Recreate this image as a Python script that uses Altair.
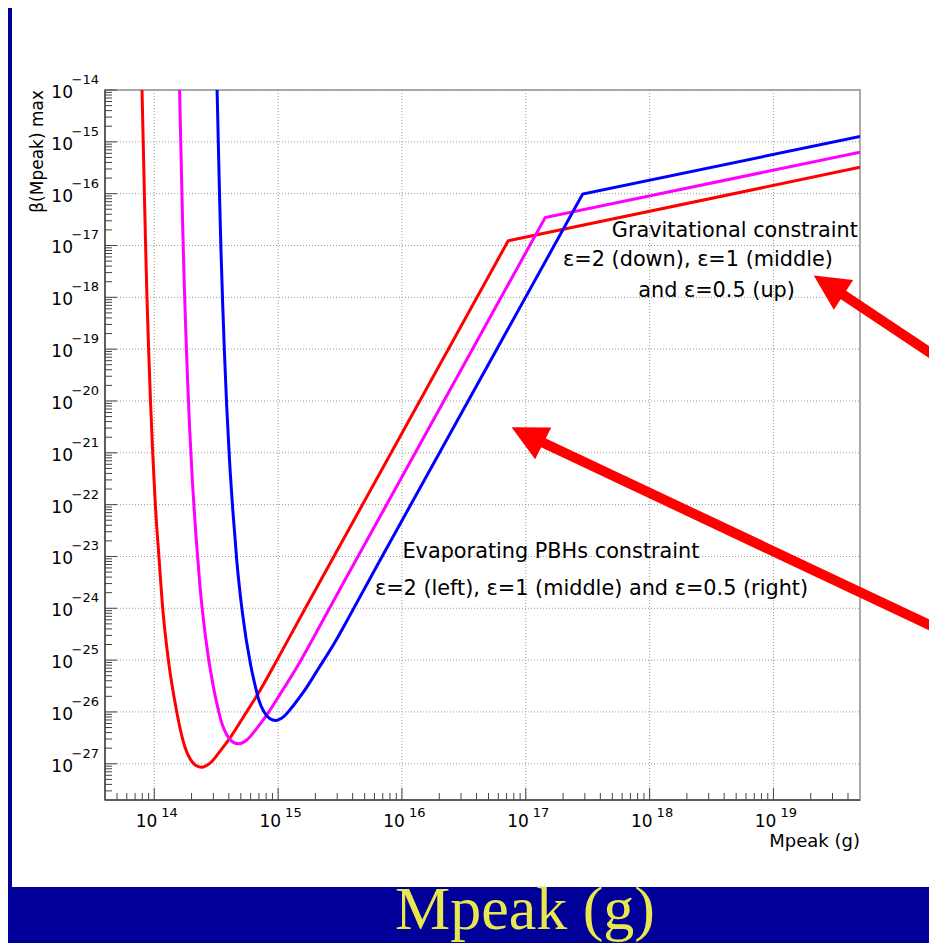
import altair as alt
import pandas as pd

# ---------------- values ----------------
EPS = ["2", "1", "0.5"]
COLORS = ["#ff0000", "#ff00ff", "#0000ff"]

# epsilon = 2 (red): evaporation branch (smooth) then gravitational branch (straight)
M_EPS2 = [7.96e13, 8.14e13, 8.32e13, 8.51e13, 8.73e13, 9.00e13, 9.32e13, 9.71e13, 1.02e14, 1.09e14,
          1.17e14, 1.30e14, 1.52e14, 1.63e14, 1.77e14, 1.94e14, 2.17e14, 2.41e14, 2.82e14, 3.39e14,
          4.09e14, 5.40e14, 7.14e14, 9.79e14, 1.65e15, 7.21e16, 5.0e19]
B_EPS2 = [1.0e-14, 1.0e-15, 1.0e-16, 1.0e-17, 1.0e-18, 1.0e-19, 1.0e-20, 1.0e-21, 1.0e-22, 1.0e-23,
          1.0e-24, 1.0e-25, 1.0e-26, 4.39e-27, 2.09e-27, 1.26e-27, 9.26e-28, 8.59e-28, 1.03e-27, 1.73e-27,
          3.15e-27, 8.94e-27, 2.60e-26, 1.0e-25, 9.82e-25, 1.23e-17, 3.22e-16]
# epsilon = 1 (magenta)
M_EPS1 = [1.584e14, 1.620e14, 1.656e14, 1.693e14, 1.737e14, 1.790e14, 1.854e14, 1.932e14, 2.031e14, 2.163e14,
          2.334e14, 2.591e14, 3.018e14, 3.252e14, 3.521e14, 3.865e14, 4.321e14, 4.804e14, 5.605e14, 6.750e14,
          8.139e14, 1.0745e15, 1.421e15, 1.948e15, 3.284e15, 1.435e17, 5.0e19]
B_EPS1 = [2.82e-14, 2.82e-15, 2.82e-16, 2.82e-17, 2.82e-18, 2.82e-19, 2.82e-20, 2.82e-21, 2.82e-22, 2.82e-23,
          2.82e-24, 2.82e-25, 2.82e-26, 1.239e-26, 5.90e-27, 3.557e-27, 2.614e-27, 2.425e-27, 2.908e-27, 4.884e-27,
          8.892e-27, 2.524e-26, 7.34e-26, 2.823e-25, 2.772e-24, 3.47e-17, 6.3e-16]
# epsilon = 0.5 (blue)
M_EPS05 = [3.151e14, 3.223e14, 3.295e14, 3.370e14, 3.457e14, 3.564e14, 3.691e14, 3.845e14, 4.042e14, 4.305e14,
           4.645e14, 5.156e14, 6.006e14, 6.471e14, 7.008e14, 7.692e14, 8.599e14, 9.560e14, 1.1155e15, 1.3433e15,
           1.6196e15, 2.138e15, 2.827e15, 3.877e15, 6.534e15, 2.88e17, 5.0e19]
B_EPS05 = [7.97e-14, 7.97e-15, 7.97e-16, 7.97e-17, 7.97e-18, 7.97e-19, 7.97e-20, 7.97e-21, 7.97e-22, 7.97e-23,
           7.97e-24, 7.97e-25, 7.97e-26, 3.499e-26, 1.666e-26, 1.004e-26, 7.380e-27, 6.846e-27, 8.209e-27, 1.379e-26,
           2.511e-26, 7.125e-26, 2.072e-25, 7.97e-25, 7.827e-24, 9.8e-17, 1.27e-15]
SMOOTH_UNTIL = 24   # last index of the curved (evaporation) part; straight segments after it

X_DOMAIN = [4e13, 5e19]
Y_DOMAIN = [2e-28, 1e-14]
X_MAJOR = [1e14, 1e15, 1e16, 1e17, 1e18, 1e19]
X_EXP = ["14", "15", "16", "17", "18", "19"]
Y_MAJOR = [1e-14, 1e-15, 1e-16, 1e-17, 1e-18, 1e-19, 1e-20, 1e-21, 1e-22, 1e-23, 1e-24, 1e-25, 1e-26, 1e-27]
Y_EXP = ["\u221214", "\u221215", "\u221216", "\u221217", "\u221218", "\u221219", "\u221220",
         "\u221221", "\u221222", "\u221223", "\u221224", "\u221225", "\u221226", "\u221227"]
TICK_BASE = "10"
X_MINOR = [m * 10.0 ** e for e in range(13, 20) for m in range(2, 10)
           if X_DOMAIN[0] * 1.001 < m * 10.0 ** e < X_DOMAIN[1] * 0.999]
Y_MINOR = [m * 10.0 ** e for e in range(-28, -14) for m in range(2, 10)
           if Y_DOMAIN[0] * 1.001 < m * 10.0 ** e < Y_DOMAIN[1] * 0.999]

X_TITLE = "Mpeak (g)"
Y_TITLE = "\u03b2(Mpeak) max"
SLIDE_TITLE = "Mpeak (g)"

ANNOT_TEXT = ["Gravitational constraint", "\u03b5=2 (down), \u03b5=1 (middle)", "and \u03b5=0.5 (up)",
              "Evaporating PBHs constraint", "\u03b5=2 (left), \u03b5=1 (middle) and \u03b5=0.5 (right)"]
ANNOT_M = [4.95e17, 2.00e17, 8.09e17, 1.01e16, 6.05e15]
ANNOT_B = [1.92e-17, 5.22e-18, 1.31e-18, 1.22e-23, 2.39e-24]

# arrows: head centre -> tail end, head rotation
ARROW_M0 = [2.79e19, 1.03e17]
ARROW_B0 = [1.72e-18, 2.18e-21]
ARROW_M1 = [2.42e20, 2.42e20]
ARROW_B1 = [5.5e-20, 3.46e-25]
ARROW_ANGLE = [303, 297]

# ---------------- build ----------------
W, H = 755, 710
FONT = "DejaVu Sans"
NAVY = "#000099"
AXC = "#444444"

rows = []
for eps, ms, bs in zip(EPS, [M_EPS2, M_EPS1, M_EPS05], [B_EPS2, B_EPS1, B_EPS05]):
    for i, (m, b) in enumerate(zip(ms, bs)):
        rows.append({"M": m, "beta": b, "eps": eps, "i": i})
curves_df = pd.DataFrame(rows)
smooth_df = curves_df[curves_df["i"] <= SMOOTH_UNTIL]
straight_df = curves_df[curves_df["i"] >= SMOOTH_UNTIL]

xs = alt.Scale(type="log", domain=X_DOMAIN, nice=False)
ys = alt.Scale(type="log", domain=Y_DOMAIN, nice=False)
color = alt.Color("eps:N", scale=alt.Scale(domain=EPS, range=COLORS), legend=None)

one = pd.DataFrame({"k": [0]})

# navy slide border strips (outside the plot)
navy_left = alt.Chart(one).mark_rect(color=NAVY).encode(
    x=alt.value(-97), x2=alt.value(-93), y=alt.value(-82), y2=alt.value(H + 143))
navy_bottom = alt.Chart(one).mark_rect(color=NAVY).encode(
    x=alt.value(-97), x2=alt.value(830), y=alt.value(797), y2=alt.value(H + 143))

# dotted grid
xgrid = alt.Chart(pd.DataFrame({"v": X_MAJOR})).mark_rule(
    color="#999999", strokeWidth=1, strokeDash=[1, 2]).encode(
    x=alt.X("v:Q", scale=xs, axis=None), y=alt.value(0), y2=alt.value(H))
ygrid = alt.Chart(pd.DataFrame({"v": Y_MAJOR})).mark_rule(
    color="#999999", strokeWidth=1, strokeDash=[1, 2]).encode(
    y=alt.Y("v:Q", scale=ys, axis=None), x=alt.value(0), x2=alt.value(W))

curves_smooth = alt.Chart(smooth_df).mark_line(clip=True, strokeWidth=3, interpolate="monotone").encode(
    x=alt.X("M:Q", scale=xs, axis=None), y=alt.Y("beta:Q", scale=ys, axis=None),
    color=color, detail="eps:N", order=alt.Order("i:Q"))
curves_straight = alt.Chart(straight_df).mark_line(clip=True, strokeWidth=3).encode(
    x=alt.X("M:Q", scale=xs, axis=None), y=alt.Y("beta:Q", scale=ys, axis=None),
    color=color, detail="eps:N", order=alt.Order("i:Q"))

def yticks(vals, length):
    return alt.Chart(pd.DataFrame({"v": vals})).mark_rule(color=AXC, strokeWidth=1).encode(
        y=alt.Y("v:Q", scale=ys, axis=None), x=alt.value(0), x2=alt.value(length))

def xticks(vals, length):
    return alt.Chart(pd.DataFrame({"v": vals})).mark_rule(color=AXC, strokeWidth=1).encode(
        x=alt.X("v:Q", scale=xs, axis=None), y=alt.value(H), y2=alt.value(H - length))

# axis lines (left and bottom)
left_line = alt.Chart(one).mark_rule(color=AXC, strokeWidth=1.5).encode(
    x=alt.value(0), y=alt.value(0), y2=alt.value(H))
bottom_line = alt.Chart(one).mark_rule(color=AXC, strokeWidth=1.5).encode(
    x=alt.value(0), x2=alt.value(W), y=alt.value(H))

# tick labels: base "10" plus exponents
x_base = alt.Chart(pd.DataFrame({"v": X_MAJOR, "t": [TICK_BASE] * len(X_MAJOR)})).mark_text(
    align="right", baseline="top", dx=3, font=FONT, fontSize=17, color="#000000").encode(
    x=alt.X("v:Q", scale=xs, axis=None), y=alt.value(H + 14), text="t:N")
x_exp = alt.Chart(pd.DataFrame({"v": X_MAJOR, "t": X_EXP})).mark_text(
    align="left", baseline="middle", dx=7, font=FONT, fontSize=13, color="#000000").encode(
    x=alt.X("v:Q", scale=xs, axis=None), y=alt.value(H + 13), text="t:N")
y_base = alt.Chart(pd.DataFrame({"v": Y_MAJOR, "t": [TICK_BASE] * len(Y_MAJOR)})).mark_text(
    align="right", baseline="middle", dy=3, font=FONT, fontSize=17, color="#000000").encode(
    y=alt.Y("v:Q", scale=ys, axis=None), x=alt.value(-32), text="t:N")
y_exp = alt.Chart(pd.DataFrame({"v": Y_MAJOR, "t": Y_EXP})).mark_text(
    align="right", baseline="middle", dy=-10, font=FONT, fontSize=13, color="#000000").encode(
    y=alt.Y("v:Q", scale=ys, axis=None), x=alt.value(-6), text="t:N")

# axis titles
x_title = alt.Chart(pd.DataFrame({"t": [X_TITLE]})).mark_text(
    align="right", baseline="alphabetic", font=FONT, fontSize=18, color="#000000").encode(
    x=alt.value(W), y=alt.value(H + 47), text="t:N")
y_title = alt.Chart(pd.DataFrame({"t": [Y_TITLE]})).mark_text(
    align="right", baseline="middle", angle=270, font=FONT, fontSize=17, color="#000000").encode(
    x=alt.value(-67), y=alt.value(0), text="t:N")

annots = alt.Chart(pd.DataFrame({"M": ANNOT_M, "beta": ANNOT_B, "t": ANNOT_TEXT})).mark_text(
    align="left", baseline="middle", font=FONT, fontSize=20.8, color="#000000").encode(
    x=alt.X("M:Q", scale=xs, axis=None), y=alt.Y("beta:Q", scale=ys, axis=None), text="t:N")

arrow_df = pd.DataFrame({"m0": ARROW_M0, "b0": ARROW_B0, "m1": ARROW_M1, "b1": ARROW_B1, "a": ARROW_ANGLE})
shafts = alt.Chart(arrow_df).mark_rule(color="#ff0000", strokeWidth=10, strokeCap="butt").encode(
    x=alt.X("m0:Q", scale=xs, axis=None), y=alt.Y("b0:Q", scale=ys, axis=None),
    x2="m1:Q", y2="b1:Q")
heads = alt.Chart(arrow_df).mark_point(shape="M0,-1L-1,1L1,1Z", filled=True, size=1260, opacity=1,
                                       color="#ff0000", strokeWidth=0).encode(
    x=alt.X("m0:Q", scale=xs, axis=None), y=alt.Y("b0:Q", scale=ys, axis=None),
    angle=alt.Angle("a:Q", scale=None))

slide_title = alt.Chart(pd.DataFrame({"t": [SLIDE_TITLE]})).mark_text(
    align="center", baseline="alphabetic", font="Liberation Serif", fontSize=62, color="#e8e84e").encode(
    x=alt.value(420), y=alt.value(839), text="t:N")

chart = alt.layer(
    navy_left, navy_bottom, xgrid, ygrid,
    curves_smooth, curves_straight,
    yticks(Y_MAJOR, 12), yticks(Y_MINOR, 7), xticks(X_MAJOR, 12), xticks(X_MINOR, 7),
    left_line, bottom_line,
    x_base, x_exp, y_base, y_exp, x_title, y_title,
    annots, shafts, heads, slide_title,
).properties(
    width=W, height=H,
    autosize=alt.AutoSizeParams(type="none"),
    padding={"left": 97, "top": 82, "right": 69, "bottom": 143},
).configure(background="white", font=FONT).configure_view(stroke="#aaaaaa", strokeWidth=2)

chart.save("out.html", embed_options={"renderer": "svg", "actions": False})
